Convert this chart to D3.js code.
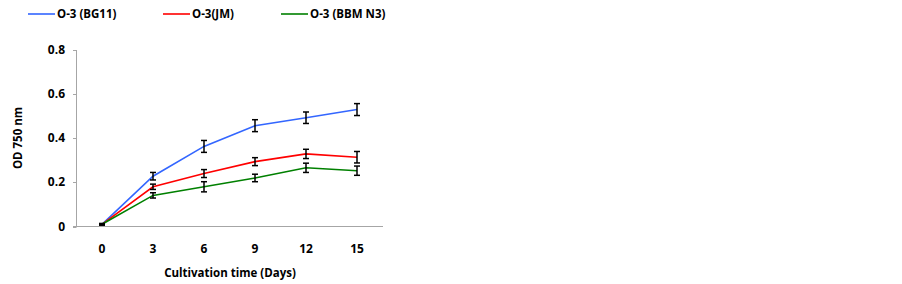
<!DOCTYPE html>
<html>
<head>
<meta charset="utf-8">
<script src="https://cdn.jsdelivr.net/npm/d3@7"></script>
<style>
  body { margin: 0; background: #fff; }
  text { font-family: "Open Sans", sans-serif; font-weight: bold; fill: #000; }
</style>
</head>
<body>
<svg id="chart" width="902" height="284"></svg>
<script>
let days = ["0", "3", "6", "9", "12", "15"];
let yTicks = [0, 0.2, 0.4, 0.6, 0.8];

let bg11 = [0.01, 0.228, 0.363, 0.457, 0.493, 0.53];
let bg11Err = [0.003, 0.017, 0.027, 0.027, 0.026, 0.027];
let jm = [0.01, 0.18, 0.24, 0.294, 0.329, 0.314];
let jmErr = [0.003, 0.012, 0.018, 0.018, 0.021, 0.026];
let bbm = [0.01, 0.141, 0.18, 0.22, 0.266, 0.253];
let bbmErr = [0.003, 0.012, 0.023, 0.017, 0.021, 0.021];

let seriesNames = ["O-3 (BG11)", "O-3(JM)", "O-3 (BBM N3)"];
let colors = ["#3366ff", "#ff0000", "#008000"];

let series = [
  {name: seriesNames[0], values: bg11, err: bg11Err, color: colors[0]},
  {name: seriesNames[1], values: jm, err: jmErr, color: colors[1]},
  {name: seriesNames[2], values: bbm, err: bbmErr, color: colors[2]}
];

let svg = d3.select("#chart");

let x = d3.scalePoint()
          .domain(days)
          .range([102, 357]);

let y = d3.scaleLinear()
          .domain([0, 0.8])
          .range([226.5, 50]);

// axes
svg.append("line")
   .attr("x1", 76.5).attr("x2", 76.5)
   .attr("y1", 50).attr("y2", 226.5)
   .attr("stroke", "#a6a6a6");

svg.append("line")
   .attr("x1", 73).attr("x2", 383)
   .attr("y1", 226.5).attr("y2", 226.5)
   .attr("stroke", "#a6a6a6");

svg.selectAll(".ytick")
   .data(yTicks)
   .enter()
   .append("line")
   .attr("x1", 73).attr("x2", 76.5)
   .attr("y1", d => Math.round(y(d)) + 0.5)
   .attr("y2", d => Math.round(y(d)) + 0.5)
   .attr("stroke", "#a6a6a6");

svg.selectAll(".ylab")
   .data(yTicks)
   .enter()
   .append("text")
   .attr("x", 65)
   .attr("y", d => y(d) + 4)
   .attr("text-anchor", "end")
   .attr("font-size", 12)
   .text(d => d === 0 ? "0" : d.toFixed(1));

svg.selectAll(".xlab")
   .data(days)
   .enter()
   .append("text")
   .attr("x", d => x(d))
   .attr("y", 253)
   .attr("text-anchor", "middle")
   .attr("font-size", 12)
   .text(d => d);

svg.append("text")
   .attr("x", 230)
   .attr("y", 277)
   .attr("text-anchor", "middle")
   .attr("font-size", 11.5)
   .text("Cultivation time (Days)");

svg.append("text")
   .attr("transform", "translate(22,138) rotate(-90)")
   .attr("text-anchor", "middle")
   .attr("font-size", 11.5)
   .text("OD 750 nm");

// lines
let line = d3.line()
             .x((d, i) => x(days[i]))
             .y(d => y(d));

svg.selectAll(".series")
   .data(series)
   .enter()
   .append("path")
   .attr("d", s => line(s.values))
   .attr("fill", "none")
   .attr("stroke", s => s.color)
   .attr("stroke-width", 1.6);

// error bars
for (let s of series) {
  let g = svg.append("g");
  s.values.forEach((v, i) => {
    let cx = x(days[i]);
    let top = y(v + s.err[i]);
    let bot = y(v - s.err[i]);
    g.append("line")
     .attr("x1", cx).attr("x2", cx)
     .attr("y1", top).attr("y2", bot)
     .attr("stroke", "#000").attr("stroke-width", 1.5);
    g.append("line")
     .attr("x1", cx - 3).attr("x2", cx + 3)
     .attr("y1", top).attr("y2", top)
     .attr("stroke", "#000").attr("stroke-width", 1.5);
    g.append("line")
     .attr("x1", cx - 3).attr("x2", cx + 3)
     .attr("y1", bot).attr("y2", bot)
     .attr("stroke", "#000").attr("stroke-width", 1.5);
  });
}

// legend
let legendX = [28, 163, 281];
let legend = svg.selectAll(".legend")
   .data(series)
   .enter()
   .append("g")
   .attr("transform", (d, i) => `translate(${legendX[i]},14)`);

legend.append("line")
      .attr("x1", 0).attr("x2", 27)
      .attr("y1", 0).attr("y2", 0)
      .attr("stroke", d => d.color)
      .attr("stroke-width", 1.6);

legend.append("text")
      .attr("x", 29)
      .attr("y", 4)
      .attr("font-size", 11.5)
      .text(d => d.name);
</script>
</body>
</html>
